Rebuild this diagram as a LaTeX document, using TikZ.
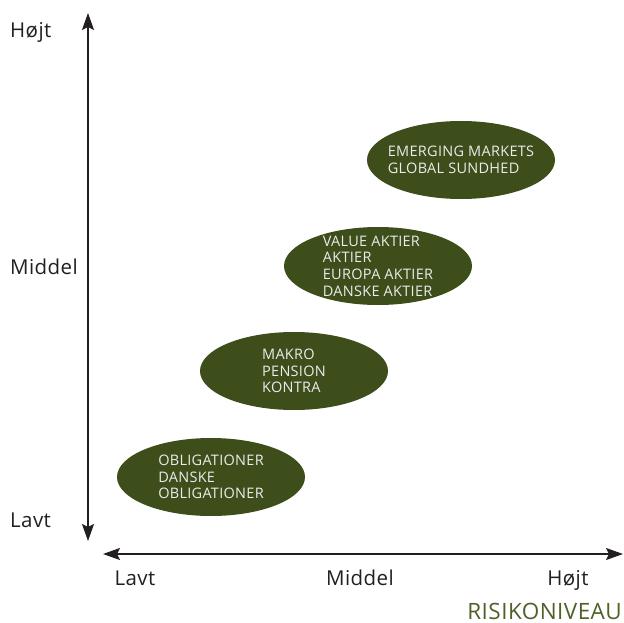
\documentclass[tikz,border=0pt]{standalone}
\usepackage{fontspec}
\setmainfont{Open Sans}[LetterSpace=2]
\usetikzlibrary{arrows.meta,shapes.geometric}
\definecolor{fondgreen}{HTML}{3E4E1B}
\definecolor{labelgreen}{HTML}{4E6128}
\definecolor{axisgray}{HTML}{231F20}
\tikzset{
  fund/.style={ellipse, fill=fondgreen, text=white!92!black, minimum width=188pt,
    minimum height=78pt, inner xsep=-25pt, inner ysep=-15pt, align=left,
    font=\fontsize{14.5}{16.6}\selectfont},
  axis/.style={line width=2pt, draw=axisgray,
    {Stealth[length=17pt,width=12pt,inset=3pt]}-{Stealth[length=17pt,width=12pt,inset=3pt]}},
  lbl/.style={inner sep=0pt, text=axisgray, font=\fontsize{20.5}{24}\selectfont}
}

\begin{document}
\begin{tikzpicture}[x=1pt,y=-1pt]
        \useasboundingbox (0,0) rectangle (624,623);

        % axes
        \coordinate (ytop) at (88,13); \coordinate (ybot) at (88,541);
        \coordinate (xleft) at (103,554); \coordinate (xright) at (623,554);
        \draw[axis] (ybot) -- (ytop);
        \draw[axis] (xleft) -- (xright);

        % vertical labels
        \node[lbl,anchor=base west] (yhigh) at (10,38) {Højt};
        \node[lbl,anchor=base west] (ymid) at (10,274) {Middel};
        \node[lbl,anchor=base west] (ylow) at (10,527) {Lavt};

        % horizontal labels
        \node[lbl,anchor=base] (xlow) at (135,585) {Lavt};
        \node[lbl,anchor=base] (xmid) at (360,585) {Middel};
        \node[lbl,anchor=base] (xhigh) at (568,585) {Højt};
        \node[lbl,anchor=base east,text=labelgreen,
          font=\fontsize{22.5}{26}\selectfont] (risk) at (622,619) {RISIKONIVEAU};

        % funds
        \node[fund] (emerg) at (461,160) {EMERGING MARKETS\\GLOBAL SUNDHED};
        \node[fund] (aktier) at (378,266)
          {VALUE AKTIER\\AKTIER\\EUROPA AKTIER\\DANSKE AKTIER};
        \node[fund] (makro) at (294,371) {MAKRO\\PENSION\\KONTRA};
        \node[fund] (oblig) at (211,477)
          {OBLIGATIONER\\DANSKE\\OBLIGATIONER};
      \end{tikzpicture}
\end{document}
